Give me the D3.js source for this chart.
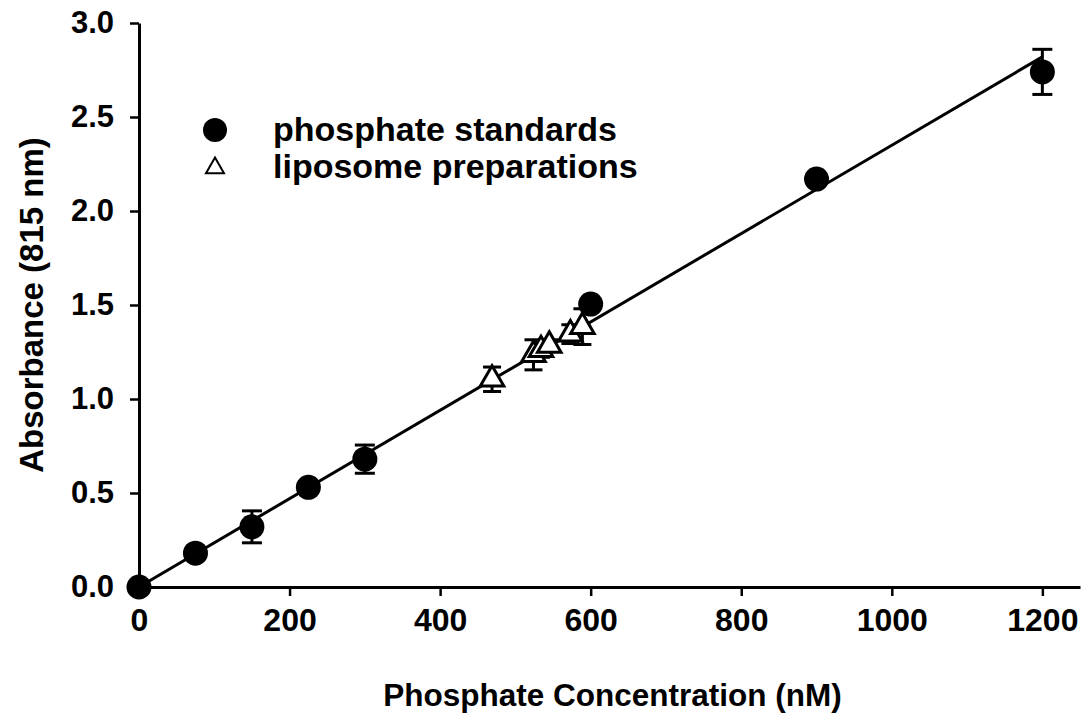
<!DOCTYPE html>
<html><head><meta charset="utf-8">
<script src="https://cdn.jsdelivr.net/npm/d3@7"></script>
<style>
html,body{margin:0;padding:0;background:#fff;}
text{font-family:"Liberation Sans",Arial,sans-serif;font-weight:bold;fill:#000;}
</style></head>
<body>
<svg id="chart" width="1088" height="716"></svg>
<script>
// Data
const stdConc = [0, 75, 150, 225, 300, 600, 900, 1200];
const stdAbs  = [0.00, 0.18, 0.32, 0.53, 0.68, 1.505, 2.17, 2.74];
const stdErr  = [0, 0, 0.085, 0, 0.075, 0, 0, 0.12];

const lipoConc = [469, 524, 534, 545, 573, 589];
const lipoAbs  = [1.105, 1.235, 1.262, 1.285, 1.345, 1.385];
const lipoErr  = [0.065, 0.08, 0.04, 0.03, 0.05, 0.095];

const fitSlope = 0.002350;
const fitIntercept = 0.0;
const fitRange = [0, 1200];

const xTicks = [0, 200, 400, 600, 800, 1000, 1200];
const yTicks = [0.0, 0.5, 1.0, 1.5, 2.0, 2.5, 3.0];
const xTitle = "Phosphate Concentration (nM)";
const yTitle = "Absorbance (815 nm)";
const legendLabels = ["phosphate standards", "liposome preparations"];

const svg = d3.select("#chart");
const x = d3.scaleLinear().domain([0, 1250]).range([139, 1080]);
const y = d3.scaleLinear().domain([0, 3]).range([587, 23]);

// Axes
const xAxis = d3.axisBottom(x).tickValues(xTicks).tickFormat(d3.format("d")).tickSize(9).tickSizeOuter(0).tickPadding(12);
const yAxis = d3.axisLeft(y).tickValues(yTicks).tickFormat(d3.format(".1f")).tickSize(9).tickSizeOuter(0).tickPadding(16);

const gx = svg.append("g").attr("transform", `translate(0,${y(0)})`).call(xAxis);
const gy = svg.append("g").attr("transform", `translate(${x(0)},0)`).call(yAxis);
[gx, gy].forEach(g => {
  g.select(".domain").attr("stroke", "#000").attr("stroke-width", 3);
  g.selectAll(".tick line").attr("stroke", "#000").attr("stroke-width", 2.5);
  g.selectAll(".tick text").style("font-family", '"Liberation Sans",Arial,sans-serif').style("font-weight", "bold").attr("fill", "#000");
});
gx.selectAll(".tick text").style("font-size", "32px");
gy.selectAll(".tick text").style("font-size", "31px");

// Titles
svg.append("text").attr("x", (x(0) + x(1250)) / 2 + 3).attr("y", 706)
  .attr("text-anchor", "middle").style("font-size", "31.5px").text(xTitle);
svg.append("text").attr("transform", `translate(43,${(y(0)+y(3))/2}) rotate(-90)`)
  .attr("text-anchor", "middle").style("font-size", "33px").text(yTitle);

// Fit line
svg.append("line")
  .attr("x1", x(fitRange[0])).attr("y1", y(fitIntercept + fitSlope * fitRange[0]))
  .attr("x2", x(fitRange[1])).attr("y2", y(fitIntercept + fitSlope * fitRange[1]))
  .attr("stroke", "#000").attr("stroke-width", 3);

function errBars(conc, abs, err, cap) {
  const g = svg.append("g").attr("stroke", "#000").attr("stroke-width", 3);
  conc.forEach((c, i) => {
    if (!err[i]) return;
    const cx = x(c), y1 = y(abs[i] + err[i]), y2 = y(abs[i] - err[i]);
    g.append("line").attr("x1", cx).attr("x2", cx).attr("y1", y1).attr("y2", y2);
    g.append("line").attr("x1", cx - cap).attr("x2", cx + cap).attr("y1", y1).attr("y2", y1);
    g.append("line").attr("x1", cx - cap).attr("x2", cx + cap).attr("y1", y2).attr("y2", y2);
  });
}

const tri = d3.symbol().type(d3.symbolTriangle).size(240);

// Liposome preparations
errBars(lipoConc, lipoAbs, lipoErr, 9);
svg.append("g").selectAll("path").data(lipoConc).join("path")
  .attr("d", tri)
  .attr("transform", (d, i) => `translate(${x(d)},${y(lipoAbs[i])})`)
  .attr("fill", "#fff").attr("stroke", "#000").attr("stroke-width", 3);

// Phosphate standards
errBars(stdConc, stdAbs, stdErr, 10);
svg.append("g").selectAll("circle").data(stdConc).join("circle")
  .attr("cx", d => x(d)).attr("cy", (d, i) => y(stdAbs[i])).attr("r", 12.5)
  .attr("fill", "#000");

// Legend
const lg = svg.append("g");
lg.append("circle").attr("cx", 215).attr("cy", 130).attr("r", 12).attr("fill", "#000");
lg.append("path").attr("d", d3.symbol().type(d3.symbolTriangle).size(140))
  .attr("transform", "translate(215,168)").attr("fill", "#fff").attr("stroke", "#000").attr("stroke-width", 2);
lg.append("text").attr("x", 273).attr("y", 141).style("font-size", "34px").text(legendLabels[0]);
lg.append("text").attr("x", 273).attr("y", 178).style("font-size", "34px").text(legendLabels[1]);
</script>
</body></html>
